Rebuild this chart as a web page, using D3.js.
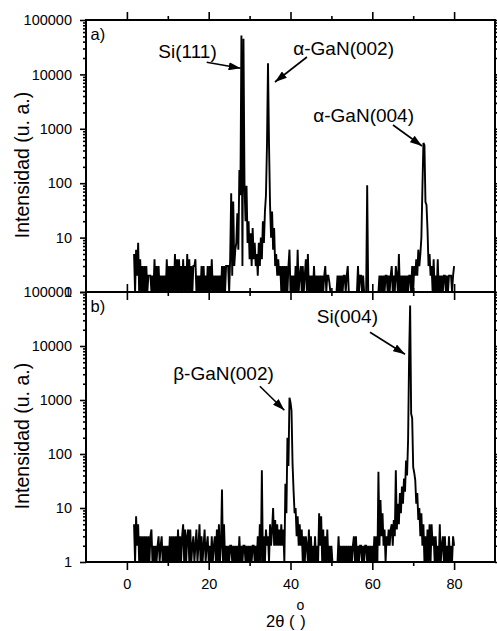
<!DOCTYPE html>
<html><head><meta charset="utf-8">
<script src="https://cdn.jsdelivr.net/npm/d3@7"></script>
<style>
body{margin:0;background:#fff}
svg{display:block}
text{font-family:Arial,"Liberation Sans",sans-serif;fill:#000}
</style>
</head><body>
<svg id="c" width="497" height="631"></svg>
<script>
// ---------- DATA ----------
const thetaStart = 1.75, thetaStep = 0.25;   // 2θ sampling grid (degrees)

// panel a) intensity (u. a.), rows = one degree (θ, θ+.25, θ+.5, θ+.75)
const intensityA = [
  5,                      // 1.75
  1, 6, 2, 8,             // 2
  1, 4, 1, 3,             // 3
  1, 3, 1, 3,             // 4
  1, 2, 2, 2,             // 5
  1, 2, 1, 4,             // 6
  1, 3, 1, 3,             // 7
  1, 2, 1, 2,             // 8
  1, 2, 1, 4,             // 9
  1, 3, 1, 3,             // 10
  1, 3, 1, 5,             // 11
  1, 4, 1, 4,             // 12
  1, 3, 1, 4,             // 13
  1, 3, 1, 5,             // 14
  1, 4, 1, 3,             // 15
  1, 3, 3, 4,             // 16
  1, 2, 1, 2,             // 17
  1, 3, 1, 3,             // 18
  1, 2, 1, 3,             // 19
  1, 3, 1, 4,             // 20
  1, 2, 1, 2,             // 21
  1, 2, 1, 2,             // 22
  1, 3, 1, 3,             // 23
  1, 3, 3, 3,             // 24
  1, 4, 65, 2,            // 25
  46, 3, 6, 8,            // 26
  28, 6, 175, 60,         // 27
  52000, 3, 45000, 100,   // 28
  20, 90, 8, 20,          // 29
  4, 12, 3, 15,           // 30
  4, 8, 3, 5,             // 31
  2, 8, 3, 10,            // 32
  4, 20, 8, 30,           // 33
  60, 500, 16000, 500,    // 34
  40, 10, 30, 6,          // 35
  15, 3, 5, 2,            // 36
  4, 2, 3, 1,             // 37
  3, 1, 3, 1,             // 38
  3, 1, 3, 6,             // 39
  1, 2, 1, 2,             // 40
  1, 3, 1, 6,             // 41
  1, 2, 3, 1,             // 42
  3, 1, 2, 4,             // 43
  1, 5, 1, 2,             // 44
  1, 2, 1, 3,             // 45
  1, 2, 1, 2,             // 46
  1, 2, 1, 2,             // 47
  1, 2, 3, 1,             // 48
  2, 2, 1.5, 1,           // 49
  1, 1, 1, 1,             // 50
  1, 1, 2, 1,             // 51
  2, 1, 2, 1,             // 52
  2, 2, 1, 2,             // 53
  3, 1, 1, 1,             // 54
  1, 1, 1, 1,             // 55
  1, 1, 3, 1,             // 56
  2, 2, 1, 2,             // 57
  1, 1, 1, 92,            // 58
  1, 1, 1, 1,             // 59
  1, 1, 1, 1,             // 60
  1, 1, 1, 2,             // 61
  1, 2, 1, 2,             // 62
  1, 2, 2, 1,             // 63
  2, 1, 2, 3,             // 64
  1, 2, 1, 3,             // 65
  2, 1, 5, 1,             // 66
  2, 1, 2, 1,             // 67
  2, 1, 2, 1,             // 68
  2, 2, 1, 3,             // 69
  1, 3, 2, 4,             // 70
  2, 6, 3, 5,             // 71
  10, 80, 550, 500,       // 72
  45, 40, 14, 3,          // 73
  5, 2, 3, 1,             // 74
  4, 1, 2, 1,             // 75
  4, 1, 2, 1,             // 76
  2, 1, 2, 2,             // 77
  1, 2, 1, 2,             // 78
  2, 2, 1, 2,             // 79
  3                       // 80
];

// panel b) intensity (u. a.)
const intensityB = [
  5,                      // 1.75
  1, 7, 2, 5,             // 2
  1, 3, 1, 3,             // 3
  1, 3, 1, 3,             // 4
  1, 3, 1, 3,             // 5
  4, 1, 2, 1,             // 6
  2, 1, 2, 3,             // 7
  1, 2, 3, 1,             // 8
  2, 1, 2, 1,             // 9
  2, 1, 3, 1,             // 10
  3, 1, 3, 1,             // 11
  3, 1, 4, 1,             // 12
  3, 1, 3, 5,             // 13
  1, 4, 1, 3,             // 14
  4, 1, 4, 1,             // 15
  2, 3, 1, 2,             // 16
  4, 1, 2, 5,             // 17
  1, 3, 1, 2,             // 18
  4, 1, 2, 3,             // 19
  1, 2, 1, 3,             // 20
  1, 2, 3, 1,             // 21
  4, 1, 5, 1,             // 22
  2, 22, 1, 5,            // 23
  1, 2, 1, 2,             // 24
  1, 2, 2, 1,             // 25
  2, 1, 2, 1,             // 26
  2, 1, 3, 1,             // 27
  2, 1, 2, 2,             // 28
  1, 2, 1, 2,             // 29
  1, 2, 1, 2,             // 30
  2, 1, 2, 1,             // 31
  3, 1, 5, 1,             // 32
  50, 1, 3, 1,            // 33
  4, 2, 3, 1,             // 34
  5, 2, 4, 10,            // 35
  2, 6, 2, 5,             // 36
  2, 4, 2, 5,             // 37
  2, 4, 1, 28,            // 38
  8, 200, 60, 1100,       // 39
  900, 640, 67, 21,       // 40
  8, 10, 3, 7,            // 41
  2, 5, 2, 4,             // 42
  1, 3, 1, 3,             // 43
  2, 1, 4, 1,             // 44
  3, 1, 2, 1,             // 45
  3, 1, 2, 1,             // 46
  8, 2, 7, 1,             // 47
  4, 1, 3, 1,             // 48
  4, 1, 2, 1,             // 49
  2, 1, 1, 1,             // 50
  1, 1, 1, 3,             // 51
  1, 2, 1, 2,             // 52
  1, 2, 1, 2,             // 53
  1, 2, 1, 2,             // 54
  1, 2, 3, 1,             // 55
  3, 1, 2, 1,             // 56
  2, 2, 1, 2,             // 57
  1, 2, 2, 1,             // 58
  2, 1, 2, 1,             // 59
  2, 1, 3, 1,             // 60
  3, 1, 47, 2,            // 61
  14, 3, 8, 2,            // 62
  4, 1, 3, 2,             // 63
  4, 2, 4, 5,             // 64
  2, 6, 3, 50,            // 65
  4, 12, 5, 19,           // 66
  8, 25, 12, 35,          // 67
  20, 76, 40, 180,        // 68
  6300, 56000, 560, 460,  // 69
  57, 45, 33, 12,         // 70
  19, 6, 10, 3,           // 71
  8, 2, 5, 1,             // 72
  3, 1, 4, 1,             // 73
  5, 1, 5, 2,             // 74
  3, 1, 3, 1,             // 75
  2, 1, 5, 1,             // 76
  2, 3, 1, 3,             // 77
  1, 2, 1, 3,             // 78
  1, 2, 1, 3,             // 79
  2                       // 80
];

const yMajorTicks = [1, 10, 100, 1000, 10000, 100000];
const xMajorTicks = [0, 20, 40, 60, 80];
const xMinorTicks = [10, 30, 50, 70];
const panelLabels = ["a)", "b)"];
const yTitle = "Intensidad (u. a.)";

// peak labels: text, arrow tip in data coords (2θ, intensity)
const peakLabelsA = [
  { text: "Si(111)",     theta: 27.82, value: 12950 },
  { text: "α-GaN(002)",  theta: 36.2,  value: 7250 },
  { text: "α-GaN(004)",  theta: 72.15, value: 483 }
];
const peakLabelsB = [
  { text: "Si(004)",     theta: 68.0,  value: 7020 },
  { text: "β-GaN(002)",  theta: 38.5,  value: 645 }
];

// ---------- LAYOUT ----------
const left = 86, right = 495;
const panels = [
  { top: 20,  bottom: 292, data: intensityA, label: panelLabels[0], peaks: peakLabelsA, xLabels: false,
    peakLayout: [ {tail:[-34,-6], txt:[-82.4,-10]}, {tail:[32,-25], txt:[18.3,-26.5]}, {tail:[-29,-21], txt:[-108.7,-23.5]} ] },
  { top: 292, bottom: 562, data: intensityB, label: panelLabels[1], peaks: peakLabelsB, xLabels: true,
    peakLayout: [ {tail:[-35,-22], txt:[-88.3,-31]}, {tail:[-24.5,-24], txt:[-111.2,-30]} ] }
];

const svg = d3.select("#c");
const x = d3.scaleLinear().domain([-10, 90]).range([left, right]);

const defs = svg.append("defs");
defs.append("marker").attr("id", "ah")
  .attr("markerUnits", "userSpaceOnUse")
  .attr("viewBox", "0 0 12 8").attr("refX", 12).attr("refY", 4)
  .attr("markerWidth", 12).attr("markerHeight", 8).attr("orient", "auto")
  .append("path").attr("d", "M0,0 L12,4 L0,8 Z").attr("fill", "#000");

const minorY = [];
for (let e = 0; e < 5; e++) for (let m = 2; m <= 9; m++) minorY.push(m * Math.pow(10, e));

panels.forEach((p) => {
  const y = d3.scaleLog().domain([1, 100000]).range([p.bottom, p.top]);
  const g = svg.append("g");

  // data line
  const pts = p.data.map((v, i) => ({ t: thetaStart + i * thetaStep, v }));
  g.append("path").datum(pts)
    .attr("fill", "none").attr("stroke", "#000").attr("stroke-width", 1.9)
    .attr("stroke-linejoin", "miter").attr("stroke-miterlimit", 3)
    .attr("d", d3.line().x(d => x(d.t)).y(d => y(d.v)));

  // axes
  const styleAxis = sel => {
    sel.selectAll(".domain").remove();
    sel.selectAll("line").attr("stroke", "#000").attr("stroke-width", 1.6);
    sel.selectAll("text").style("font-size", "14.5px").attr("fill", "#000")
      .style("font-family", "Arial, 'Liberation Sans', sans-serif");
  };
  g.append("g").attr("transform", `translate(${left},0)`)
    .call(d3.axisLeft(y).tickValues(yMajorTicks).tickSize(6).tickPadding(8).tickFormat(d3.format("d"))).call(styleAxis);
  g.append("g").attr("transform", `translate(${left},0)`)
    .call(d3.axisLeft(y).tickValues(minorY).tickSize(3).tickFormat("")).call(styleAxis);
  g.append("g").attr("transform", `translate(${right},0)`)
    .call(d3.axisRight(y).tickValues(yMajorTicks).tickSize(6).tickFormat("")).call(styleAxis);
  g.append("g").attr("transform", `translate(${right},0)`)
    .call(d3.axisRight(y).tickValues(minorY).tickSize(3).tickFormat("")).call(styleAxis);

  g.append("g").attr("transform", `translate(0,${p.top})`)
    .call(d3.axisTop(x).tickValues(xMajorTicks).tickSize(8).tickFormat("")).call(styleAxis);
  g.append("g").attr("transform", `translate(0,${p.top})`)
    .call(d3.axisTop(x).tickValues(xMinorTicks).tickSize(4).tickFormat("")).call(styleAxis);
  g.append("g").attr("transform", `translate(0,${p.bottom})`)
    .call(d3.axisBottom(x).tickValues(xMajorTicks).tickSize(8).tickPadding(9)
      .tickFormat(p.xLabels ? d3.format("d") : "")).call(styleAxis);
  g.append("g").attr("transform", `translate(0,${p.bottom})`)
    .call(d3.axisBottom(x).tickValues(xMinorTicks).tickSize(4).tickFormat("")).call(styleAxis);

  // frame
  g.append("rect").attr("x", left).attr("y", p.top)
    .attr("width", right - left).attr("height", p.bottom - p.top)
    .attr("fill", "none").attr("stroke", "#000").attr("stroke-width", 2);

  // panel label
  g.append("text").attr("x", 90.5).attr("y", p.top + 20)
    .style("font-size", "16.5px").text(p.label);

  // y title
  g.append("text")
    .attr("transform", `translate(29,${(p.top + p.bottom) / 2 + 9}) rotate(-90)`)
    .attr("text-anchor", "middle").style("font-size", "19.5px").text(yTitle);

  // peak labels with arrows
  p.peaks.forEach((pk, k) => {
    const lay = p.peakLayout[k];
    const tx = x(pk.theta), ty = y(pk.value);
    g.append("line")
      .attr("x1", tx + lay.tail[0]).attr("y1", ty + lay.tail[1])
      .attr("x2", tx).attr("y2", ty)
      .attr("stroke", "#000").attr("stroke-width", 1.6)
      .attr("marker-end", "url(#ah)");
    g.append("text").attr("x", tx + lay.txt[0]).attr("y", ty + lay.txt[1])
      .style("font-size", "19px").text(pk.text);
  });
});

// x title: 2θ (°)
const xt = svg.append("text").attr("x", 266).attr("y", 627).style("font-size", "16.5px");
xt.append("tspan").text("2θ (");
xt.append("tspan").attr("dx", 2).attr("dy", -17).style("font-size", "14px").text("o");
xt.append("tspan").attr("dx", -4).attr("dy", 17).text(")");
</script>
</body></html>
